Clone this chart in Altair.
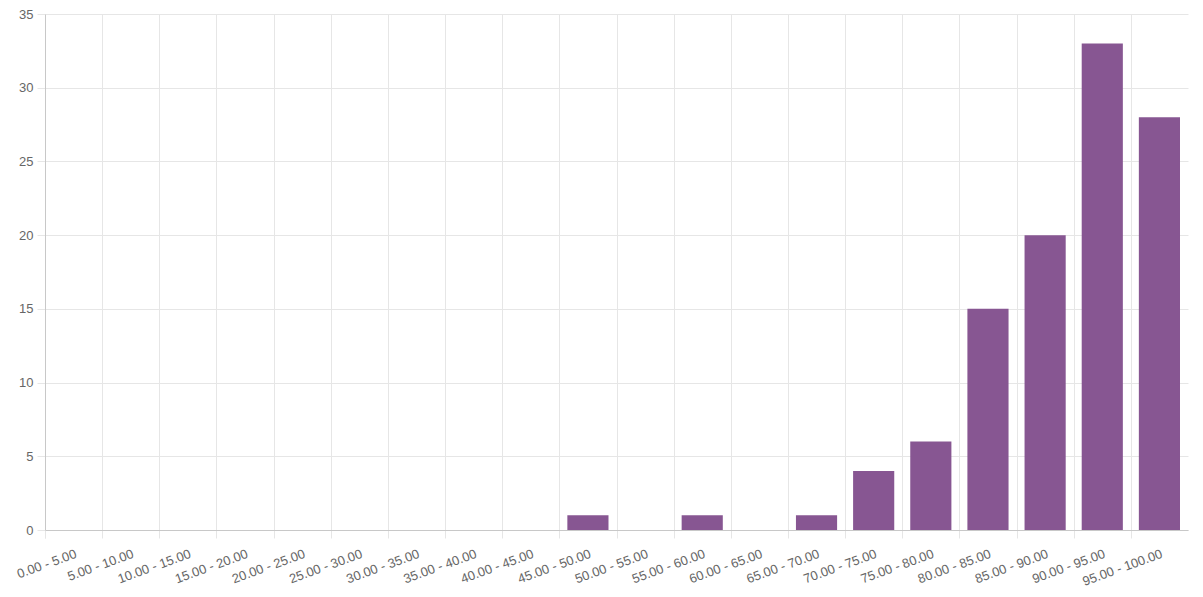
import altair as alt
import pandas as pd

categories = [f"{i*5:.2f} - {(i+1)*5:.2f}" for i in range(20)]
counts = [0, 0, 0, 0, 0, 0, 0, 0, 0, 1, 0, 1, 0, 1, 4, 6, 15, 20, 33, 28]

df = pd.DataFrame({"range": categories, "count": counts})

FONT = "Liberation Sans"
STEP = 1143 / 20
HALF_GAP = STEP * 0.14

chart = alt.Chart(df).mark_bar(color="#875692").encode(
    x=alt.X("range:N", sort=categories, title=None,
            scale=alt.Scale(paddingInner=0.28, paddingOuter=0.14),
            axis=alt.Axis(labelAngle=-20, bandPosition=0, tickExtra=True,
                          tickOffset=-HALF_GAP, labelOffset=HALF_GAP + 2, grid=True,
                          gridColor="#e6e6e6", domainColor="#c8c8c8",
                          tickColor="#e6e6e6", tickSize=8,
                          labelFont=FONT, labelFontSize=13, labelColor="#666666",
                          labelPadding=15, labelAlign="right", labelBaseline="middle")),
    y=alt.Y("count:Q", title=None,
            scale=alt.Scale(domain=[0, 35], nice=False),
            axis=alt.Axis(values=[0, 5, 10, 15, 20, 25, 30, 35], grid=True,
                          gridColor="#e6e6e6", domainColor="#c8c8c8",
                          tickColor="#e6e6e6", tickSize=8, labelPadding=4,
                          labelFont=FONT, labelFontSize=13, labelColor="#666666")),
).properties(
    width=1143, height=516,
    autosize=alt.AutoSizeParams(type="none"),
    padding={"left": 37, "top": 6, "right": 7, "bottom": 59},
).configure_view(stroke=None)

chart.save("out.html", embed_options={"renderer": "svg", "actions": False})
